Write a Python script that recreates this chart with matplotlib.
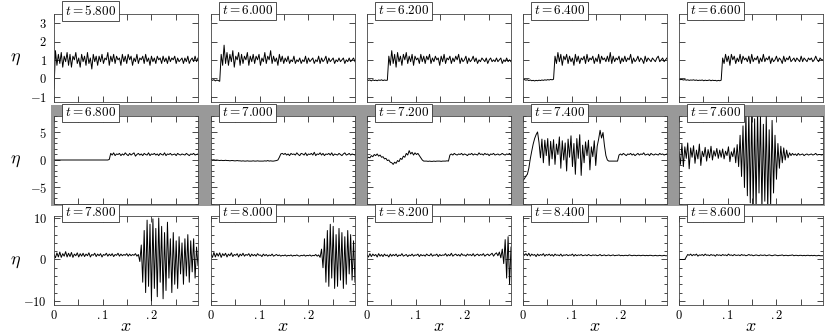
import numpy as np
import matplotlib
matplotlib.use("Agg")
import matplotlib.pyplot as plt
from matplotlib.patches import Rectangle
from matplotlib.ticker import FixedLocator, FixedFormatter

plt.rcParams['mathtext.fontset'] = 'cm'
plt.rcParams['font.family'] = 'DejaVu Serif'

# domain length in x (every series is sampled evenly across it)
x_end = 0.296

times = ['5.800', '6.000', '6.200', '6.400', '6.600',
         '6.800', '7.000', '7.200', '7.400', '7.600',
         '7.800', '8.000', '8.200', '8.400', '8.600']

eta_t580 = [-0.6, 1.5, 0.7, 1.3, 0.8, 1.4, 0.6, 1.2, 0.9, 1.4,
            0.7, 1.3, 0.6, 1.2, 1.0, 1.4, 0.8, 1.1, 0.6, 1.3,
            0.9, 1.2, 0.7, 1.4, 0.8, 1.1, 0.5, 1.3, 0.9, 1.2,
            0.7, 1.2, 0.9, 1.3, 0.8, 1.1, 1.0, 1.4, 0.7, 1.2,
            0.9, 1.3, 0.8, 1.2, 1.0, 1.1, 0.7, 1.3, 0.9, 1.2,
            0.8, 1.3, 1.0, 1.2, 0.7, 1.1, 0.9, 1.3, 0.8, 1.1,
            1.0, 1.2, 0.8, 1.3, 0.9, 1.1, 0.7, 1.2, 0.9, 1.1,
            0.8, 1.2, 1.0, 1.1, 0.8, 1.2, 0.9, 1.1, 0.8, 1.2,
            0.9, 1.1, 1.0, 1.2, 0.8, 1.1, 0.9, 1.0, 1.1, 0.8,
            1.1, 0.9, 1.2, 0.8, 1.0, 1.1, 0.9, 1.2, 0.9, 1.1]

eta_t600 = [-0.05, -0.12, -0.08, -0.15, -0.10, -0.13, -0.17, 1.3, 0.7, 1.8,
            0.8, 1.4, 0.7, 1.3, 0.9, 1.5, 0.6, 1.2, 1.0, 1.4,
            0.7, 1.3, 0.8, 1.2, 1.0, 1.4, 0.7, 1.2, 0.9, 1.3,
            0.8, 1.2, 1.0, 1.3, 0.7, 1.1, 0.9, 1.4, 0.8, 1.2,
            1.0, 1.5, 0.8, 1.2, 0.9, 1.1, 0.7, 1.3, 0.9, 1.2,
            0.8, 1.1, 0.9, 1.2, 0.8, 1.0, 0.9, 1.2, 0.8, 1.0,
            0.9, 1.1, 0.8, 1.0, 0.9, 1.2, 0.8, 1.1, 0.9, 1.0,
            1.1, 0.8, 1.0, 0.9, 1.2, 0.8, 1.1, 0.9, 1.0, 1.2,
            0.8, 1.1, 0.9, 1.0, 1.1, 0.8, 1.0, 0.9, 1.1, 0.9,
            1.0, 1.1, 0.8, 1.0, 0.9, 1.1, 0.9, 1.0, 1.1, 0.9]

eta_t620 = [-0.08, -0.12, -0.10, -0.15, -0.09, -0.13, -0.11, -0.14, -0.10, -0.12,
            -0.09, -0.13, -0.10, -0.12, -0.11, 1.2, 0.7, 1.5, 0.8, 1.3,
            0.6, 1.4, 0.9, 1.2, 0.7, 1.3, 1.0, 1.4, 0.8, 1.2,
            0.9, 1.3, 0.7, 1.2, 1.0, 1.1, 0.8, 1.3, 0.9, 1.2,
            0.8, 1.2, 1.0, 1.3, 0.8, 1.1, 0.9, 1.2, 1.0, 1.1,
            0.7, 1.2, 0.9, 1.3, 0.8, 1.1, 1.0, 1.2, 0.8, 1.1,
            0.9, 1.2, 1.0, 1.3, 0.8, 1.1, 0.9, 1.0, 1.2, 0.8,
            1.1, 0.9, 1.0, 1.2, 0.9, 1.1, 0.8, 1.0, 0.9, 1.1,
            1.0, 0.9, 1.1, 0.8, 1.0, 1.1, 0.9, 1.0, 0.9, 1.1,
            0.9, 1.0, 1.1, 0.8, 1.0, 0.9, 1.1, 0.9, 1.0, 0.9]

eta_t640 = [-0.05, -0.08, -0.11, -0.09, -0.13, -0.10, -0.14, -0.12, -0.15, -0.12,
            -0.14, -0.11, -0.13, -0.10, -0.12, -0.09, -0.11, -0.08, -0.10, -0.07,
            -0.09, -0.06, 1.2, 0.8, 1.4, 0.9, 1.3, 0.7, 1.2, 1.0,
            1.3, 0.8, 1.2, 0.9, 1.1, 0.7, 1.3, 0.9, 1.2, 0.8,
            1.1, 1.0, 1.2, 0.8, 1.3, 0.9, 1.1, 1.0, 1.2, 0.8,
            1.1, 0.9, 1.3, 0.8, 1.2, 1.0, 1.1, 0.9, 1.2, 0.9,
            1.4, 0.8, 1.2, 0.9, 1.1, 1.0, 1.2, 0.8, 1.1, 0.9,
            1.2, 0.9, 1.1, 1.0, 1.3, 0.8, 1.1, 0.9, 1.0, 1.2,
            0.9, 1.1, 1.0, 0.8, 1.2, 0.9, 1.1, 1.0, 0.9, 1.1,
            1.0, 0.9, 1.1, 1.2, 0.9, 1.0, 1.1, 0.9, 1.0, 1.1]

eta_t660 = [-0.05, -0.08, -0.07, -0.10, -0.08, -0.11, -0.09, -0.12, -0.10, -0.11,
            -0.09, -0.12, -0.10, -0.13, -0.11, -0.12, -0.10, -0.14, -0.11, -0.13,
            -0.12, -0.10, -0.14, -0.11, -0.13, -0.12, -0.15, -0.12, -0.14, -0.11,
            1.1, 0.8, 1.3, 0.9, 1.2, 0.7, 1.3, 1.0, 1.2, 0.8,
            1.1, 0.9, 1.3, 0.8, 1.2, 1.0, 1.1, 0.9, 1.2, 0.8,
            1.3, 0.9, 1.1, 1.0, 1.2, 0.8, 1.1, 0.9, 1.3, 0.9,
            1.1, 1.0, 1.2, 0.8, 1.1, 0.9, 1.0, 1.2, 0.9, 1.1,
            1.0, 0.8, 1.2, 0.9, 1.1, 1.0, 1.2, 0.9, 1.0, 1.1,
            0.9, 1.1, 1.0, 0.9, 1.2, 0.9, 1.1, 1.0, 0.9, 1.1,
            1.0, 1.1, 0.9, 1.0, 1.2, 1.0, 0.9, 1.1, 1.0, 1.0]

eta_t680 = [0.0, 0.0, 0.0, 0.0, 0.0, 0.0, 0.0, 0.0, 0.0, 0.0,
            0.0, 0.0, 0.0, 0.0, 0.0, 0.0, 0.0, 0.0, 0.0, 0.0,
            0.0, 0.0, 0.0, 0.0, 0.0, 0.0, 0.0, 0.0, 0.0, 0.0,
            0.0, 0.0, 0.0, 0.0, 0.0, 0.0, 0.0, 0.0, 0.1, 1.2,
            0.9, 1.3, 0.8, 1.1, 1.0, 1.2, 0.8, 1.1, 0.9, 1.3,
            1.0, 0.8, 1.2, 0.9, 1.1, 1.3, 0.7, 1.0, 1.2, 0.9,
            1.1, 0.8, 1.2, 1.0, 0.9, 1.3, 0.8, 1.1, 1.0, 1.2,
            0.9, 1.1, 0.8, 1.2, 1.0, 0.9, 1.3, 0.8, 1.1, 1.0,
            1.2, 0.9, 1.0, 1.1, 0.8, 1.2, 1.0, 0.9, 1.1, 1.0,
            0.9, 1.2, 1.0, 0.8, 1.1, 1.0, 1.2, 0.9, 1.0, 1.1]

eta_t700 = [0.1, 0.0, 0.05, -0.05, 0.0, -0.05, -0.1, -0.05, -0.1, -0.1,
            -0.05, -0.1, -0.1, -0.15, -0.1, -0.1, -0.15, -0.15, -0.1, -0.15,
            -0.15, -0.2, -0.15, -0.2, -0.2, -0.15, -0.2, -0.2, -0.2, -0.15,
            -0.2, -0.2, -0.15, -0.2, -0.2, -0.2, -0.2, -0.15, -0.2, -0.1,
            -0.2, -0.15, -0.2, -0.2, -0.15, -0.1, 0.0, 0.5, 1.1, 1.2,
            1.0, 1.2, 0.9, 1.1, 0.8, 1.2, 1.0, 1.1, 0.9, 1.3,
            1.0, 0.8, 1.2, 1.1, 0.9, 1.3, 0.8, 1.1, 1.0, 1.2,
            0.9, 1.4, 0.8, 1.1, 1.0, 1.3, 0.9, 1.2, 0.8, 1.1,
            1.0, 1.2, 0.9, 1.3, 0.8, 1.1, 1.0, 0.9, 1.2, 1.0,
            0.8, 1.1, 1.3, 0.9, 1.0, 1.2, 0.9, 1.1, 1.0, 0.9]

eta_t720 = [0.3, 0.5, 0.4, 0.8, 0.6, 1.0, 0.8, 1.1, 0.7, 0.9,
            0.5, 0.6, 0.2, 0.3, -0.1, 0.0, -0.4, -0.5, -0.8, -0.4,
            -0.6, -0.1, -0.3, 0.3, 0.1, 0.7, 0.5, 1.2, 0.9, 1.7,
            1.1, 1.4, 0.9, 1.3, 1.0, 1.2, 0.8, 0.4, 0.0, -0.2,
            -0.2, -0.2, -0.25, -0.2, -0.25, -0.25, -0.2, -0.25, -0.2, -0.2,
            -0.2, -0.25, -0.2, -0.2, -0.2, -0.15, -0.2, 0.9, 1.1, 0.9,
            1.2, 1.0, 0.9, 1.1, 1.0, 1.2, 0.9, 1.1, 1.0, 0.8,
            1.1, 1.0, 1.2, 0.9, 1.1, 1.0, 0.9, 1.3, 1.0, 1.1,
            0.9, 1.2, 1.0, 1.1, 0.8, 1.1, 1.0, 1.2, 0.9, 1.0,
            1.1, 0.9, 1.0, 1.2, 1.0, 0.9, 1.1, 1.0, 1.2, 0.9]

eta_t740 = [-3.7, -3.4, -2.9, -2.6, -1.5, 0.2, 1.6, 2.9, 3.9, 4.6,
            5.1, 3.2, 0.4, 3.8, -0.5, 3.6, 0.8, 3.9, -1.0, 3.4,
            0.2, 3.7, -0.8, 2.9, 1.0, 4.2, -1.5, 3.5, 0.0, 3.1,
            -2.0, 3.8, 0.5, 4.4, -1.2, 3.0, -2.6, 3.9, 0.3, 4.6,
            -2.8, 2.7, -0.5, 3.3, 0.8, 3.6, -1.8, 2.4, 0.6, 3.5,
            -1.0, 2.5, 3.8, 5.4, 4.0, 5.0, 2.6, 0.8, 0.0, -0.2,
            -0.2, -0.2, -0.2, -0.2, -0.2, -0.2, 0.9, 1.1, 0.9, 1.2,
            1.0, 0.8, 1.1, 1.0, 1.2, 0.9, 1.1, 0.8, 1.0, 1.2,
            0.9, 1.1, 1.0, 1.3, 0.9, 1.0, 1.1, 0.8, 1.2, 1.0,
            0.9, 1.1, 1.0, 0.9, 1.2, 1.0, 1.1, 0.9, 1.0, 1.1]

eta_t760 = [1.5, -0.8, 2.9, -1.2, 2.4, 0.3, 3.1, -1.6, 2.2, 0.5,
            2.6, -0.6, 1.8, 0.2, 2.9, -1.0, 1.6, 0.6, 2.3, -0.2,
            1.9, 0.4, 2.5, 0.0, 1.7, 0.7, 2.1, 0.3, 1.8, 0.5,
            2.0, 0.2, 1.6, 0.8, 2.4, -0.3, 1.5, 0.6, 2.2, -0.5,
            2.8, -1.2, 4.5, -3.0, 6.2, -5.0, 8.5, -6.5, 9.0, -7.8,
            8.8, -8.5, 7.5, -9.0, 9.0, -6.0, 8.2, -8.8, 6.5, -7.5,
            8.0, -9.0, 5.5, -8.5, 7.2, -6.0, 4.5, -3.5, 3.0, -1.5,
            2.5, -0.5, 2.2, 0.0, 1.8, 0.4, 1.3, 0.8, 1.2, 0.9,
            1.1, 0.8, 1.2, 0.9, 1.0, 1.1, 0.8, 1.0, 1.1, 0.9,
            1.0, 1.1, 0.9, 1.0, 1.2, 0.9, 1.0, 1.0, 0.9, 1.0]

eta_t780 = [1.2, 0.4, 1.6, 0.6, 1.8, 0.5, 1.4, 0.8, 1.9, 0.6,
            1.5, 0.7, 1.7, 0.5, 1.3, 0.9, 1.6, 0.6, 1.4, 0.8,
            1.5, 0.7, 1.3, 0.9, 1.6, 0.6, 1.2, 1.0, 1.5, 0.7,
            1.3, 0.9, 1.4, 0.6, 1.2, 1.0, 1.5, 0.8, 1.3, 0.9,
            1.4, 0.7, 1.2, 1.0, 1.5, 0.8, 1.3, 0.9, 1.2, 1.0,
            1.4, 0.8, 1.3, 0.9, 1.2, 1.0, 1.4, 0.8, 1.2, -0.5,
            3.5, -5.5, 7.0, -8.0, 9.5, -6.5, 8.5, -10.0, 9.8, -7.0,
            7.5, -9.0, 10.0, -5.5, 8.0, -9.5, 6.5, -7.5, 9.0, -4.5,
            5.0, -8.0, 6.5, -6.0, 4.5, -7.0, 5.5, -3.5, 4.0, -6.0,
            5.0, -4.0, 6.0, -5.5, 4.5, -3.0, 5.0, -4.5, 3.0, -1.5]

eta_t800 = [1.3, 0.5, 1.7, 0.6, 1.5, 0.8, 1.6, 0.5, 1.4, 0.9,
            1.5, 0.6, 1.3, 0.9, 1.6, 0.7, 1.2, 1.0, 1.4, 0.6,
            1.3, 0.9, 1.5, 0.8, 1.2, 1.0, 1.4, 0.7, 1.3, 0.9,
            1.2, 0.8, 1.4, 1.0, 1.1, 0.7, 1.3, 0.9, 1.2, 0.8,
            1.1, 0.9, 1.3, 0.8, 1.0, 1.2, 0.9, 1.1, 0.8, 1.0,
            0.9, 1.1, 0.8, 1.0, 0.9, 1.1, 0.8, 1.0, 0.9, 1.1,
            0.9, 0.8, 1.0, 0.9, 1.1, 0.8, 1.0, 0.9, 1.1, 0.8,
            1.0, 0.9, 1.2, 0.8, 1.1, 0.5, 2.5, -2.0, 5.0, -5.5,
            7.0, -6.5, 8.5, -4.5, 8.0, -7.0, 6.0, -6.5, 7.5, -5.0,
            6.5, -7.0, 5.5, -6.0, 7.0, -3.5, 6.0, -5.0, 4.5, -5.5]

eta_t820 = [1.1, 0.6, 1.4, 0.7, 1.3, 0.9, 1.2, 0.6, 1.4, 0.8,
            1.2, 0.7, 1.3, 0.9, 1.1, 0.6, 1.3, 0.8, 1.2, 0.9,
            1.3, 0.7, 1.1, 0.9, 1.4, 0.8, 1.0, 1.2, 0.7, 1.1,
            0.9, 1.3, 0.8, 1.1, 1.0, 1.3, 0.7, 1.2, 0.9, 1.1,
            0.8, 1.3, 1.0, 0.9, 1.4, 0.8, 1.1, 1.0, 1.3, 0.7,
            1.2, 0.9, 1.1, 1.0, 1.4, 0.8, 1.2, 0.9, 1.5, 0.8,
            1.1, 1.3, 0.9, 1.2, 0.8, 1.4, 1.0, 1.1, 0.8, 1.3,
            1.0, 1.2, 0.9, 1.4, 0.8, 1.1, 1.3, 0.9, 1.2, 1.0,
            1.4, 0.8, 1.1, 1.3, 0.9, 1.2, 1.5, 0.8, 1.3, 1.6,
            0.9, 1.8, 0.4, 2.5, -1.0, 4.8, -4.5, 5.5, -6.0, 3.0]

eta_t840 = [1.6, 1.0, 1.4, 0.9, 1.5, 0.8, 1.3, 1.0, 1.2, 0.7,
            1.3, 0.9, 1.2, 1.0, 1.4, 0.8, 1.2, 1.0, 1.3, 0.9,
            1.2, 0.8, 1.3, 1.0, 1.1, 0.9, 1.3, 0.8, 1.1, 1.0,
            1.2, 0.9, 1.1, 1.0, 1.3, 0.8, 1.2, 0.9, 1.1, 1.0,
            1.2, 0.9, 1.0, 1.1, 0.9, 1.2, 1.0, 0.9, 1.1, 1.0,
            1.1, 0.9, 1.0, 1.2, 0.9, 1.0, 1.1, 0.9, 1.0, 1.1,
            0.9, 1.0, 1.1, 0.9, 1.0, 1.0, 1.1, 0.9, 1.0, 0.9,
            1.0, 1.0, 0.9, 1.1, 1.0, 0.9, 1.0, 1.0, 0.9, 1.0,
            1.0, 0.9, 1.0, 1.0, 0.9, 1.0, 0.9, 1.0, 1.0, 0.9,
            0.9, 1.0, 0.9, 0.9, 1.0, 0.9, 0.9, 1.0, 0.9, 0.9]

eta_t860 = [0.0, 0.0, 0.0, 0.0, 0.0, 0.6, 1.2, 1.0, 1.3, 0.9,
            1.2, 1.0, 1.3, 0.8, 1.1, 1.0, 1.2, 0.9, 1.3, 1.0,
            1.1, 0.9, 1.2, 1.0, 1.1, 0.8, 1.2, 1.0, 1.1, 0.9,
            1.2, 1.0, 1.1, 0.9, 1.3, 1.0, 1.1, 0.9, 1.2, 1.0,
            1.0, 1.1, 0.9, 1.2, 1.0, 1.1, 0.9, 1.0, 1.2, 1.0,
            1.1, 0.9, 1.0, 1.1, 1.0, 0.9, 1.1, 1.0, 1.0, 1.1,
            0.9, 1.0, 1.1, 1.0, 0.9, 1.0, 1.1, 1.0, 0.9, 1.0,
            1.0, 1.1, 0.9, 1.0, 1.0, 0.9, 1.0, 1.0, 1.1, 0.9,
            1.0, 1.0, 0.9, 1.0, 1.0, 0.9, 1.0, 0.9, 1.0, 1.0,
            0.9, 1.0, 0.9, 1.0, 0.9, 0.9, 1.0, 0.9, 0.9, 0.9]

series = [eta_t580, eta_t600, eta_t620, eta_t640, eta_t660,
          eta_t680, eta_t700, eta_t720, eta_t740, eta_t760,
          eta_t780, eta_t800, eta_t820, eta_t840, eta_t860]

# per-row y settings
row_ylim = [(-1.3, 3.5), (-8.0, 8.0), (-11.0, 10.5)]
row_major = [[-1, 0, 1, 2, 3], [-5, 0, 5], [-10, 0, 10]]
row_minor = [[], [v for v in range(-8, 9) if v % 5 != 0], [v for v in range(-10, 11, 2) if v % 10 != 0]]

x_major = [0, 0.1, 0.2]
x_minor = [0.05, 0.15, 0.25]
x_labels = ['$0$', '$.1$', '$.2$']

W, H = 830, 336
fig = plt.figure(figsize=(W / 100, H / 100), dpi=100)

col_left = [54, 211, 367, 523, 679]
row_top = [14, 116, 216]
row_bot = [102, 204, 305]
pw = 144

# gray band behind the middle row
fig.patches.append(Rectangle((51 / W, 1 - 206 / H), (825 - 51) / W, (206 - 105) / H,
                             transform=fig.transFigure, facecolor='#999999',
                             edgecolor='none', zorder=-5))

for r in range(3):
    for c in range(5):
        k = r * 5 + c
        ax = fig.add_axes([col_left[c] / W, 1 - row_bot[r] / H, pw / W,
                           (row_bot[r] - row_top[r]) / H])
        ax.set_zorder(1)
        y = np.array(series[k])
        x = np.linspace(0, x_end, len(y))
        ax.plot(x, y, color='black', lw=0.7)
        ax.set_xlim(0, x_end)
        ax.set_ylim(*row_ylim[r])

        ax.xaxis.set_major_locator(FixedLocator(x_major))
        ax.xaxis.set_minor_locator(FixedLocator(x_minor))
        ax.yaxis.set_major_locator(FixedLocator(row_major[r]))
        ax.yaxis.set_minor_locator(FixedLocator(row_minor[r]))
        ax.tick_params(which='both', direction='in', top=True, right=True,
                       width=0.5, labelsize=9, pad=5)
        ax.tick_params(axis='x', which='both', length=4, pad=3)
        ax.tick_params(axis='y', which='major', length=4)
        ax.tick_params(axis='y', which='minor', length=2)
        for s in ax.spines.values():
            s.set_linewidth(0.6)
            s.set_color('#444444')

        if c == 0:
            ax.yaxis.set_major_formatter(FixedFormatter(
                ['$%d$' % v if v >= 0 else '$-%d$' % -v for v in row_major[r]]))
        else:
            ax.set_yticklabels([])
        if r == 2:
            ax.xaxis.set_major_formatter(FixedFormatter(x_labels))
            fig.text((col_left[c] + pw / 2) / W, 1 - 326 / H, '$x$',
                     fontsize=13, ha='center', va='center')
        else:
            ax.set_xticklabels([])

        ax.text(0.075, 1.035, '$t=%s$' % times[k], transform=ax.transAxes,
                ha='left', va='center', fontsize=9.5, zorder=5,
                bbox=dict(boxstyle='square,pad=0.2', fc='white', ec='#333333', lw=0.6))

    fig.text(15 / W, 1 - (row_top[r] + row_bot[r]) / 2 / H, r'$\eta$',
             fontsize=13, ha='center', va='center')

fig.savefig('out.png', dpi=100)
